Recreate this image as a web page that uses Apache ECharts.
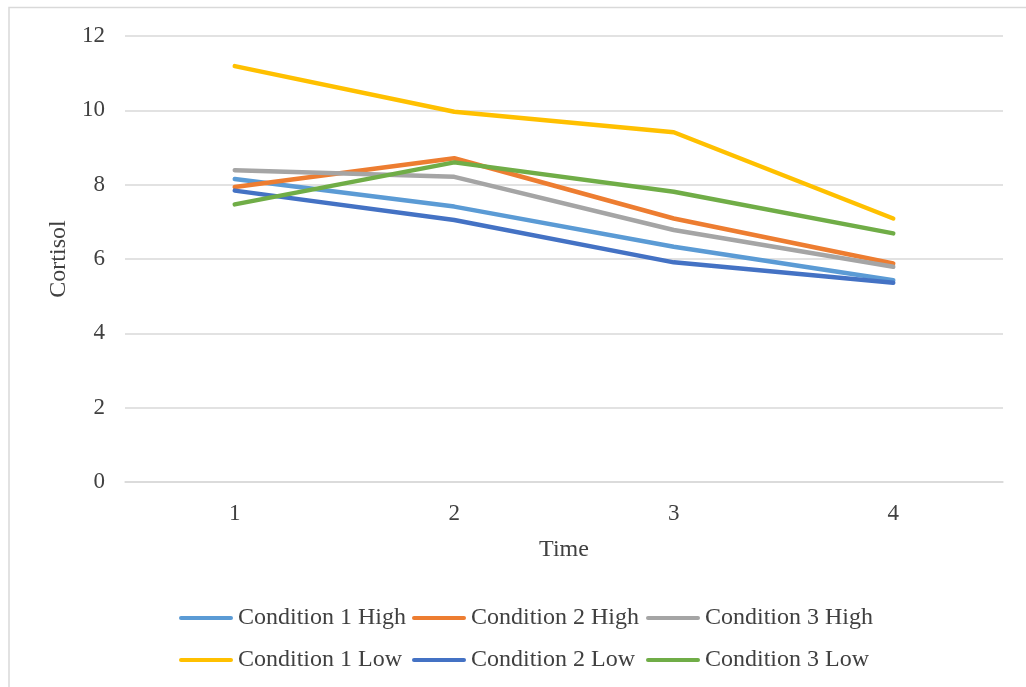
<!DOCTYPE html>
<html>
<head>
<meta charset="utf-8">
<script src="https://cdn.jsdelivr.net/npm/echarts@6/dist/echarts.min.js"></script>
<style>
  html, body { margin: 0; padding: 0; background: #fff; }
  #chart { width: 1026px; height: 687px; }
</style>
</head>
<body>
<div id="chart"></div>
<script>
// Cortisol over four time points, by condition and level
const timePoints = ['1', '2', '3', '4'];
const cond1High = [8.15, 7.41, 6.33, 5.43];
const cond2High = [7.94, 8.71, 7.09, 5.88];
const cond3High = [8.39, 8.21, 6.78, 5.79];
const cond1Low  = [11.19, 9.96, 9.41, 7.09];
const cond2Low  = [7.84, 7.05, 5.91, 5.36];
const cond3Low  = [7.47, 8.60, 7.81, 6.69];

const seriesNames = [
  'Condition 1 High', 'Condition 2 High', 'Condition 3 High',
  'Condition 1 Low', 'Condition 2 Low', 'Condition 3 Low'
];
const seriesValues = [cond1High, cond2High, cond3High, cond1Low, cond2Low, cond3Low];
const seriesColors = ['#5B9BD5', '#ED7D31', '#A5A5A5', '#FFC000', '#4472C4', '#70AD47'];

const FONT = '"Liberation Serif", "Times New Roman", serif';
const TEXT = '#404040';

// legend laid out as a 3-column grid, one legend block per entry
const LEGEND_COL_X = [174, 407, 641];
const LEGEND_ROW_Y = [601, 643];
const lineIcon = 'path://M2,0 L52,0 A2,2 0 0 1 52,4 L2,4 A2,2 0 0 1 2,0 Z';

const legends = seriesNames.map((name, i) => ({
  left: LEGEND_COL_X[i % 3],
  top: LEGEND_ROW_Y[Math.floor(i / 3)],
  data: [name],
  icon: lineIcon,
  itemWidth: 54,
  itemHeight: 4.5,
  textStyle: { fontFamily: FONT, fontSize: 24, color: TEXT }
}));

const chart = echarts.init(document.getElementById('chart'), null, { renderer: 'canvas' });
chart.setOption({
  animation: false,
  backgroundColor: '#fff',
  graphic: [{
    type: 'rect',
    shape: { x: 9, y: 7.5, width: 1040, height: 700 },
    style: { fill: 'none', stroke: '#d9d9d9', lineWidth: 1.5 },
    silent: true
  }],
  grid: { left: 125, right: 23, top: 36, bottom: 205 },
  legend: legends,
  xAxis: {
    type: 'category',
    data: timePoints,
    boundaryGap: true,
    name: 'Time',
    nameLocation: 'middle',
    nameGap: 56,
    nameTextStyle: { fontFamily: FONT, fontSize: 24, color: TEXT },
    axisLine: { lineStyle: { color: '#d9d9d9', width: 1.5 } },
    axisTick: { show: false },
    axisLabel: { fontFamily: FONT, fontSize: 23, color: TEXT, margin: 20 }
  },
  yAxis: {
    type: 'value',
    min: 0,
    max: 12,
    interval: 2,
    name: 'Cortisol',
    nameLocation: 'middle',
    nameGap: 52,
    nameTextStyle: { fontFamily: FONT, fontSize: 24, color: TEXT },
    axisLine: { show: false },
    axisTick: { show: false },
    axisLabel: { fontFamily: FONT, fontSize: 23, color: TEXT, margin: 20 },
    splitLine: { lineStyle: { color: '#d9d9d9', width: 1.5 } }
  },
  series: seriesNames.map((name, i) => ({
    name: name,
    type: 'line',
    data: seriesValues[i],
    symbol: 'none',
    color: seriesColors[i],
    itemStyle: { color: seriesColors[i] },
    lineStyle: { width: 4.5, color: seriesColors[i], cap: 'round', join: 'round' }
  }))
});
</script>
</body>
</html>
